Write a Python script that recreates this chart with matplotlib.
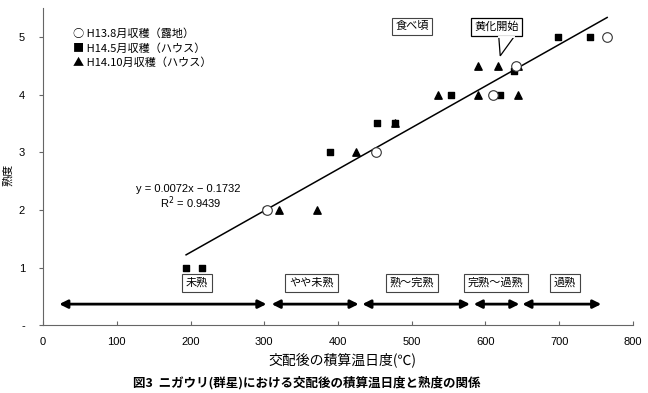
import matplotlib
matplotlib.use('Agg')
import matplotlib.pyplot as plt
from matplotlib.patches import Polygon
import numpy as np

plt.rcParams['font.family'] = ['Noto Sans CJK JP', 'DejaVu Sans']

# data
h13_x = [304, 452, 610, 642, 765]
h13_y = [2, 3, 4, 4.5, 5]
h145_x = [194, 215, 303, 389, 453, 477, 553, 620, 638, 699, 742]
h145_y = [1, 1, 2, 3, 3.5, 3.5, 4, 4, 4.4, 5, 5]
h1410_x = [320, 372, 424, 477, 535, 590, 590, 617, 644, 644]
h1410_y = [2, 2, 3, 3.5, 4, 4, 4.5, 4.5, 4.5, 4]
slope, intercept = 0.0072, -0.1732

stage_labels = ['未熟', 'やや未熟', '熟～完熟', '完熟～過熟', '過熟']
stage_label_x = [209, 364, 500, 614, 708]
stage_ranges = [(22, 303), (310, 428), (433, 579), (584, 646), (650, 757)]

arial = ['Liberation Sans', 'DejaVu Sans']

fig = plt.figure(figsize=(6.48, 3.93), dpi=100)
ax = fig.add_axes([0.0664, 0.1718, 0.9104, 0.808])

ax.scatter(h145_x, h145_y, marker='s', s=24, color='black', zorder=3)
ax.scatter(h1410_x, h1410_y, marker='^', s=28, color='black', zorder=3)
ax.scatter(h13_x, h13_y, marker='o', s=48, facecolor='white', edgecolor='#333333',
           linewidth=0.8, zorder=4)

all_x = h13_x + h145_x + h1410_x
lx = np.array([min(all_x), max(all_x)])
ax.plot(lx, slope * lx + intercept, color='black', lw=1.1, zorder=2)

ax.text(197, 2.36, 'y = 0.0072x − 0.1732', ha='center', va='center', fontsize=8, family=arial)
ax.text(200, 2.12, 'R$^2$ = 0.9439', ha='center', va='center', fontsize=8, family=arial)

# legend as text
leg = ['○ H13.8月収穫（露地）', '■ H14.5月収穫（ハウス）', '▲ H14.10月収穫（ハウス）']
for i, t in enumerate(leg):
    ax.text(40, 5.05 - i * 0.25, t, fontsize=8, va='center', ha='left')

# stage arrows and labels
for (a, b), lab, cx in zip(stage_ranges, stage_labels, stage_label_x):
    ax.annotate('', xy=(a, 0.37), xytext=(b, 0.37),
                arrowprops=dict(arrowstyle='<|-|>', color='black', lw=2,
                                mutation_scale=12, shrinkA=0, shrinkB=0))
    ax.text(cx, 0.74, lab, fontsize=8, ha='center', va='center',
            bbox=dict(boxstyle='square,pad=0.35', facecolor='white', edgecolor='#444444', lw=0.8))

ax.text(501, 5.18, '食べ頃', fontsize=8, ha='center', va='center',
        bbox=dict(boxstyle='square,pad=0.3', facecolor='white', edgecolor='#444444', lw=0.8))

# speech-bubble callout
ax.text(615, 5.17, '黄化開始', fontsize=8, ha='center', va='center', zorder=5,
        bbox=dict(boxstyle='square,pad=0.3', facecolor='white', edgecolor='black', lw=0.9))
tri = Polygon([(618, 5.005), (620, 4.67), (639, 5.005)], closed=False,
              facecolor='white', edgecolor='black', lw=0.9, zorder=6)
ax.add_patch(tri)
ax.plot([619, 638], [5.005, 5.005], color='white', lw=1.4, zorder=7)

ax.set_xlim(0, 800)
ax.set_ylim(0, 5.5)
ax.set_xticks(range(0, 801, 100))
ax.set_yticks([0, 1, 2, 3, 4, 5])
ax.set_yticklabels(['-', '1', '2', '3', '4', '5'])
for s in ['top', 'right']:
    ax.spines[s].set_visible(False)
for s in ['left', 'bottom']:
    ax.spines[s].set_color('#666666')
ax.tick_params(axis='x', direction='in', length=3, labelsize=8, pad=8, color='#666666')
ax.tick_params(axis='y', direction='out', length=3, labelsize=8, pad=10, color='#666666')
for lab in ax.get_xticklabels() + ax.get_yticklabels():
    lab.set_family(arial)

ax.set_xlabel('交配後の積算温日度(℃)', fontsize=10)
ax.xaxis.set_label_coords(0.508, -0.085)
fig.text(0.013, 0.555, '熟度', rotation=90, fontsize=8, ha='center', va='center')
fig.text(0.474, 0.027, '図3  ニガウリ(群星)における交配後の積算温日度と熟度の関係',
         ha='center', va='center', fontsize=9, fontweight='bold')

fig.savefig('out.png', dpi=100)
